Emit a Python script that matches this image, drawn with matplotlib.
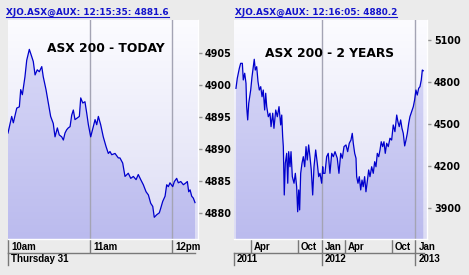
import numpy as np
import matplotlib.pyplot as plt
from matplotlib.colors import LinearSegmentedColormap
from matplotlib.lines import Line2D
from matplotlib.transforms import ScaledTranslation

# --- datos: hoy (minutos desde las 10am) ---
today_min = [0.0, 2.7, 3.9, 6.4, 8.3, 9.3, 10.5, 12.4, 13.7, 15.6,
             17.3, 18.5, 19.8, 21.4, 22.9, 24.7, 25.8, 27.8, 29.5, 31.2,
             33.1, 34.4, 36.1, 37.5, 39.3, 40.5, 41.7, 42.9, 44.1, 45.4,
             46.6, 47.8, 49.0, 50.3, 52.2, 53.2, 54.7, 56.3, 57.6, 58.8,
             60.5, 62.4, 63.7, 64.9, 66.1, 67.8, 69.7, 71.7, 73.4, 74.6,
             75.9, 78.3, 80.7, 81.9, 83.9, 85.6, 88.0, 89.8, 91.7, 93.7,
             95.3, 97.1, 99.0, 101.0, 102.7, 104.4, 105.9, 107.0, 108.8, 110.7,
             111.7, 113.2, 114.9, 116.1, 117.3, 118.5, 120.5, 121.7, 123.4, 124.6,
             126.4, 128.3, 130.2, 131.2, 132.2, 133.2, 134.4, 135.6, 136.8]
today_val = [4892.5, 4895.1, 4894.1, 4896.4, 4896.6, 4899.3, 4898.5, 4901.3, 4903.9, 4905.6,
             4904.5, 4903.7, 4901.6, 4902.4, 4902.1, 4902.9, 4901.3, 4899.3, 4897.2, 4895.1,
             4894.0, 4891.9, 4893.3, 4892.2, 4891.9, 4891.4, 4892.5, 4893.0, 4893.3, 4893.5,
             4895.3, 4896.1, 4894.6, 4894.8, 4895.1, 4898.0, 4897.2, 4897.4, 4895.6, 4893.8,
             4891.9, 4893.5, 4894.6, 4893.8, 4895.1, 4893.8, 4891.9, 4890.4, 4889.3, 4889.6,
             4889.1, 4889.3, 4888.6, 4888.6, 4887.8, 4885.7, 4886.2, 4885.4, 4885.7, 4885.2,
             4886.0, 4885.2, 4884.4, 4883.3, 4882.8, 4881.5, 4881.0, 4879.3, 4879.7, 4880.0,
             4880.7, 4881.8, 4882.6, 4884.4, 4884.1, 4884.7, 4884.1, 4884.9, 4885.4, 4884.7,
             4884.9, 4884.4, 4884.7, 4884.9, 4883.3, 4883.6, 4882.6, 4882.3, 4881.6]
today_ticks = [0, 60, 120]
today_labels = ['10am', '11am', '12pm']
today_grid = [60, 120]
today_yticks = [4880, 4885, 4890, 4895, 4900, 4905]
today_row2 = ['Thursday 31']

# --- datos: 2 años (año decimal) ---
years_t = [2011.086, 2011.100, 2011.122, 2011.136, 2011.154, 2011.164, 2011.179, 2011.193, 2011.200, 2011.211,
           2011.222, 2011.243, 2011.257, 2011.271, 2011.281, 2011.292, 2011.307, 2011.321, 2011.335, 2011.350,
           2011.364, 2011.377, 2011.392, 2011.403, 2011.414, 2011.431, 2011.449, 2011.460, 2011.478, 2011.491,
           2011.510, 2011.527, 2011.545, 2011.563, 2011.574, 2011.584, 2011.591, 2011.601, 2011.612, 2011.627,
           2011.638, 2011.648, 2011.662, 2011.673, 2011.687, 2011.705, 2011.719, 2011.733, 2011.744, 2011.755,
           2011.765, 2011.776, 2011.790, 2011.804, 2011.819, 2011.833, 2011.846, 2011.861, 2011.875, 2011.889,
           2011.904, 2011.918, 2011.936, 2011.953, 2011.968, 2011.982, 2012.000, 2012.011, 2012.017, 2012.035,
           2012.053, 2012.070, 2012.088, 2012.107, 2012.124, 2012.142, 2012.166, 2012.184, 2012.203, 2012.220,
           2012.238, 2012.259, 2012.277, 2012.294, 2012.312, 2012.326, 2012.337, 2012.352, 2012.366, 2012.373,
           2012.387, 2012.401, 2012.416, 2012.430, 2012.443, 2012.458, 2012.472, 2012.486, 2012.501, 2012.515,
           2012.533, 2012.550, 2012.565, 2012.579, 2012.593, 2012.608, 2012.622, 2012.635, 2012.650, 2012.664,
           2012.678, 2012.693, 2012.710, 2012.728, 2012.746, 2012.763, 2012.781, 2012.800, 2012.813, 2012.827,
           2012.842, 2012.856, 2012.870, 2012.885, 2012.899, 2012.913, 2012.928, 2012.941, 2012.959, 2012.977,
           2012.991, 2013.005, 2013.019, 2013.034, 2013.048, 2013.062, 2013.073, 2013.083]
years_val = [4754, 4826, 4898, 4933, 4933, 4814, 4862, 4790, 4623, 4528,
             4647, 4742, 4837, 4909, 4962, 4885, 4909, 4802, 4742, 4766,
             4694, 4742, 4599, 4719, 4623, 4551, 4576, 4480, 4576, 4468,
             4599, 4551, 4623, 4492, 4563, 4408, 4337, 3991, 4218, 4289,
             4075, 4301, 4193, 4301, 4122, 4075, 4146, 4050, 3871, 4027,
             3884, 4146, 4218, 4265, 4193, 4337, 4241, 4349, 4265, 4170,
             3991, 4193, 4313, 4218, 4122, 4146, 4075, 4193, 4146, 4146,
             4265, 4289, 4146, 4289, 4265, 4301, 4254, 4146, 4289, 4254,
             4337, 4349, 4301, 4361, 4384, 4432, 4361, 4289, 4254, 4122,
             4075, 4122, 4027, 4098, 4050, 4122, 4014, 4086, 4170, 4122,
             4193, 4146, 4229, 4193, 4289, 4265, 4313, 4372, 4337, 4372,
             4289, 4361, 4337, 4397, 4384, 4492, 4444, 4563, 4515, 4480,
             4528, 4468, 4432, 4342, 4384, 4432, 4504, 4551, 4587, 4623,
             4671, 4742, 4706, 4754, 4766, 4814, 4885, 4880]
years_ticks = [2011.247, 2011.748, 2012.0, 2012.249, 2012.751, 2013.0]
years_labels = ['Apr', 'Oct', 'Jan', 'Apr', 'Oct', 'Jan']
years_grid = [2012.0, 2013.0]
years_yticks = [3900, 4200, 4500, 4800, 5100]
years_row2 = ['2011', '2012', '2013']

W, H = 469, 275
fig = plt.figure(figsize=(W / 100, H / 100), dpi=100, facecolor='#ebebeb')

bg_cmap = LinearSegmentedColormap.from_list('bg', ['#dcdcf4', '#fcfcff'])
fill_cmap = LinearSegmentedColormap.from_list('fill', ['#bbbbee', '#dcdcf8'])
grad = np.linspace(0, 1, 256).reshape(-1, 1)


def px_axes(l, t, r, b):
    return fig.add_axes([l / W, 1 - b / H, (r - l) / W, (b - t) / H])


def panel(ax, x, y, xlim, ylim, xticks, xlabels, grid_x, yticks, row2_x, row2_labels,
          title, title_xy):
    ext = [xlim[0], xlim[1], ylim[0], ylim[1]]
    ax.imshow(grad, extent=ext, origin='lower', aspect='auto', cmap=bg_cmap, zorder=0)
    fill = ax.fill_between(x, y, ylim[0], facecolor='none', edgecolor='none')
    im = ax.imshow(grad, extent=ext, origin='lower', aspect='auto', cmap=fill_cmap, zorder=1)
    im.set_clip_path(fill.get_paths()[0], transform=ax.transData)
    for g in grid_x:
        ax.axvline(g, color='#a4a4b4', lw=1, zorder=2)
    ax.plot(x, y, color='#0000cc', lw=0.9, zorder=3)
    ax.set_xlim(xlim)
    ax.set_ylim(ylim)

    for s in ['left', 'top']:
        ax.spines[s].set_visible(False)
    for s in ['right', 'bottom']:
        ax.spines[s].set_color('white')
        ax.spines[s].set_linewidth(1)

    # eje y a la derecha
    ax.yaxis.tick_right()
    ax.set_yticks(yticks)
    ax.tick_params(axis='y', direction='out', length=3, width=1, color='#909090', pad=2,
                   labelsize=6.9)
    plt.setp(ax.get_yticklabels(), fontweight='bold')

    # eje x: separadores = ticks, etiqueta a la derecha
    ax.set_xticks(xticks, xlabels)
    ax.tick_params(axis='x', direction='out', length=10, width=1, color='#787878', pad=-7.9)
    off = ScaledTranslation(3 / 100, 0, fig.dpi_scale_trans)
    for lab in ax.get_xticklabels():
        lab.set_ha('left')
        lab.set_family('Liberation Sans')
        lab.set_fontweight('bold')
        lab.set_fontsize(7)
        lab.set_transform(lab.get_transform() + off)

    # segunda fila (fecha / años)
    tr = ax.get_xaxis_transform()
    r1 = -14 / 219
    r2 = -26 / 219
    ax.add_line(Line2D([xlim[0], xlim[0] + 0.985 * (xlim[1] - xlim[0])], [r1, r1],
                       transform=tr, color='#787878', lw=1, clip_on=False))
    for xp, lab in zip(row2_x, row2_labels):
        ax.add_line(Line2D([xp, xp], [r1, r2], transform=tr, color='#787878', lw=1,
                           clip_on=False))
        ax.text(xp, -20.5 / 219, lab, transform=tr + off, ha='left', va='center',
                family='Liberation Sans', fontweight='bold', fontsize=7, clip_on=False)

    ax.text(title_xy[0], title_xy[1], title, transform=ax.transAxes, ha='left',
            va='center', fontsize=8.8, fontweight='bold', color='black', zorder=4)


ax1 = px_axes(8, 20, 198, 239)
ax2 = px_axes(234, 20, 427, 239)

xl1 = (0, 139)
panel(ax1, today_min, today_val, xl1, (4875.9, 4910.2), today_ticks, today_labels,
      today_grid, today_yticks, [xl1[0]], today_row2, 'ASX 200 - TODAY', (0.205, 0.868))

xl2 = (2011.065, 2013.123)
panel(ax2, years_t, years_val, xl2, (3676, 5243), years_ticks, years_labels,
      years_grid, years_yticks, [xl2[0], 2012.0, 2013.0], years_row2,
      'ASX 200 - 2 YEARS', (0.161, 0.849))

# cabeceras azules subrayadas
headers = [(6, 'XJO.ASX@AUX: 12:15:35: 4881.6'), (235, 'XJO.ASX@AUX: 12:16:05: 4880.2')]
renderer = fig.canvas.get_renderer()
for hx, txt in headers:
    t = fig.text(hx / W, 1 - 14.5 / H, txt, color='#1414cc', fontsize=6.4,
                 fontweight='bold', ha='left', va='baseline')
    bb = t.get_window_extent(renderer)
    fig.add_artist(Line2D([bb.x0 / W, bb.x1 / W], [1 - 17 / H, 1 - 17 / H],
                          transform=fig.transFigure, color='#1414cc', lw=0.8))

fig.savefig('out.png', dpi=100, facecolor=fig.get_facecolor())
